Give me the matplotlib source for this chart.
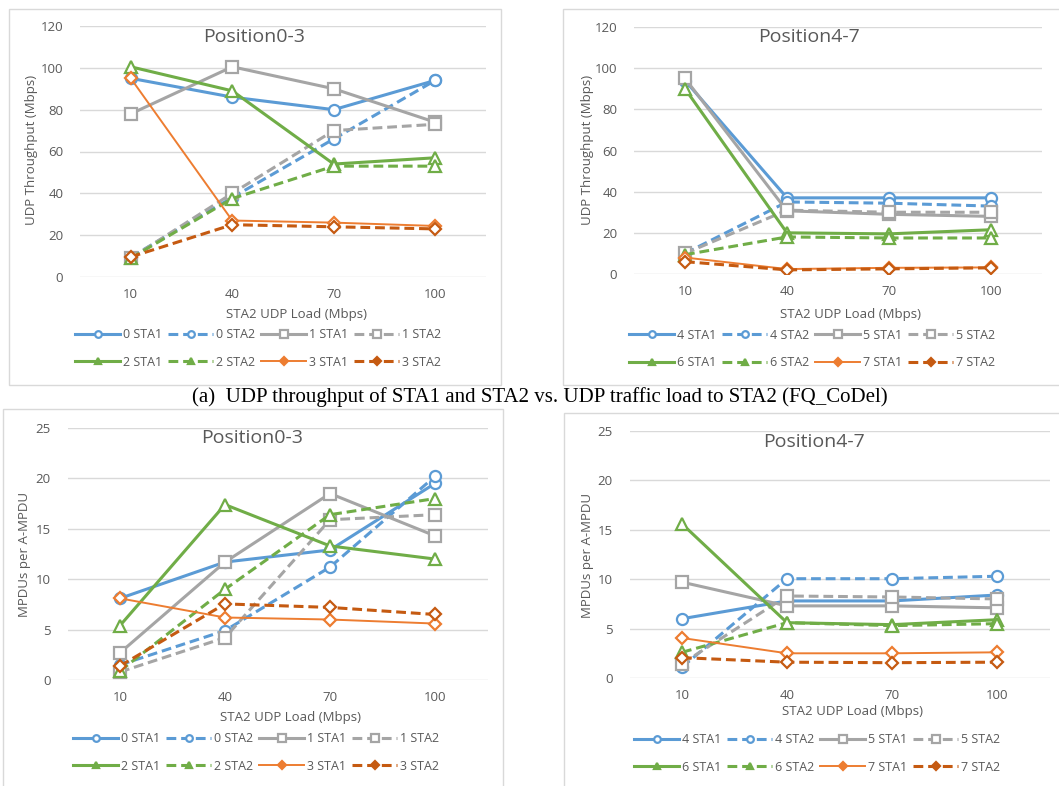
import matplotlib
matplotlib.use("Agg")
import matplotlib.pyplot as plt
from matplotlib.patches import Rectangle

plt.rcParams['font.family'] = ['Open Sans', 'DejaVu Sans']

loads = ["10", "40", "70", "100"]

# Throughput, Position 0-3
tp_0_sta1 = [95, 86, 80, 94]
tp_0_sta2 = [9.5, 38, 66, 94]
tp_1_sta1 = [78, 100.5, 90, 74]
tp_1_sta2 = [9, 40, 70, 73]
tp_2_sta1 = [100.5, 89, 54, 57]
tp_2_sta2 = [9, 37.5, 53, 53]
tp_3_sta1 = [95, 27, 26, 24.4]
tp_3_sta2 = [9.6, 25, 24, 23]

# Throughput, Position 4-7
tp_4_sta1 = [94, 37, 37, 37]
tp_4_sta2 = [10, 35, 34.4, 33]
tp_5_sta1 = [95, 30.7, 29, 28]
tp_5_sta2 = [10, 31, 30, 30]
tp_6_sta1 = [90, 20, 19.5, 21.5]
tp_6_sta2 = [9.4, 18, 17.5, 17.5]
tp_7_sta1 = [8, 2.4, 3, 3.2]
tp_7_sta2 = [6, 2, 2.5, 3]

# MPDUs per A-MPDU, Position 0-3
mp_0_sta1 = [8.1, 11.7, 12.9, 19.5]
mp_0_sta2 = [1.5, 4.9, 11.2, 20.2]
mp_1_sta1 = [2.7, 11.7, 18.5, 14.3]
mp_1_sta2 = [0.8, 4.2, 15.9, 16.4]
mp_2_sta1 = [5.4, 17.4, 13.3, 12.0]
mp_2_sta2 = [0.9, 9.0, 16.4, 18.0]
mp_3_sta1 = [8.1, 6.2, 6.0, 5.6]
mp_3_sta2 = [1.4, 7.55, 7.2, 6.5]

# MPDUs per A-MPDU, Position 4-7
mp_4_sta1 = [6.0, 7.8, 7.8, 8.4]
mp_4_sta2 = [1.1, 10.05, 10.05, 10.3]
mp_5_sta1 = [9.7, 7.3, 7.3, 7.1]
mp_5_sta2 = [1.45, 8.3, 8.2, 8.0]
mp_6_sta1 = [15.6, 5.6, 5.4, 5.9]
mp_6_sta2 = [2.6, 5.6, 5.3, 5.5]
mp_7_sta1 = [4.05, 2.5, 2.5, 2.6]
mp_7_sta2 = [2.06, 1.6, 1.55, 1.6]

W, H = 1059, 786
fig = plt.figure(figsize=(W / 100, H / 100), dpi=100)

BLUE = "#5B9BD5"
GRAY = "#A5A5A5"
GREEN = "#70AD47"
ORANGE = "#ED7D31"
DORANGE = "#C55A11"
TXT = "#595959"

styles = [
    (BLUE, '-', 'o', 2.2, 8),
    (BLUE, '--', 'o', 2.2, 8),
    (GRAY, '-', 's', 2.2, 9),
    (GRAY, '--', 's', 2.2, 9),
    (GREEN, '-', '^', 2.2, 8),
    (GREEN, '--', '^', 2.2, 8),
    (ORANGE, '-', 'D', 1.4, 6.5),
    (DORANGE, '--', 'D', 2.2, 6.5),
]


def px_axes(left, right, top, bottom):
    return fig.add_axes([left / W, (H - bottom) / H, (right - left) / W, (bottom - top) / H])


def box(x0, y0, x1, y1):
    fig.patches.append(Rectangle((x0 / W, (H - y1) / H), (x1 - x0) / W, (y1 - y0) / H,
                                 transform=fig.transFigure, fill=False,
                                 edgecolor="#D9D9D9", linewidth=1.0, zorder=0))


def panel(rect, series, names, ymax, ystep, title, title_xy, ylabel, ylabel_xy,
          xlabel_xy, legend_y, legend_x):
    ax = px_axes(*rect)
    xs = [i + 0.5 for i in range(len(loads))]
    handles = []
    for vals, name, (c, ls, m, lw, ms) in zip(series, names, styles):
        h, = ax.plot(xs, vals, color=c, linestyle=ls, linewidth=lw, marker=m,
                     markersize=ms, markerfacecolor="white", markeredgecolor=c,
                     markeredgewidth=1.6, label=name, zorder=3)
        if ls == '--':
            h.set_dashes((3.2, 1.6))
        handles.append(h)
    ax.set_xlim(0, 4)
    ax.set_ylim(0, ymax)
    ax.set_yticks(range(0, ymax + 1, ystep))
    ax.set_xticks(xs)
    ax.set_xticklabels(loads)
    ax.tick_params(length=0, labelsize=9.5, colors=TXT, pad=8)
    ax.tick_params(axis='y', pad=12)
    for s in ax.spines.values():
        s.set_visible(False)
    ax.grid(axis='y', color="#D9D9D9", linewidth=1.0)
    ax.set_axisbelow(True)
    fig.text(title_xy[0] / W, 1 - title_xy[1] / H, title, fontsize=14, color=TXT,
             ha='center', va='center')
    fig.text(ylabel_xy[0] / W, 1 - ylabel_xy[1] / H, ylabel, fontsize=9.5, color=TXT,
             rotation=90, ha='center', va='center')
    fig.text(xlabel_xy[0] / W, 1 - xlabel_xy[1] / H, "STA2 UDP Load (Mbps)", fontsize=9.5,
             color=TXT, ha='center', va='center')
    order = [0, 4, 1, 5, 2, 6, 3, 7]
    leg = fig.legend(handles=[handles[i] for i in order], ncol=4, loc='center',
                     bbox_to_anchor=(legend_x / W, 1 - legend_y / H),
                     frameon=False, fontsize=9, labelcolor=TXT, handlelength=3.6,
                     handletextpad=0.2, columnspacing=0.5, markerscale=0.6,
                     borderaxespad=0, labelspacing=1.15)
    for ln in leg.get_lines():
        if ln.get_marker() in ('^', 'D'):
            ln.set_markerfacecolor(ln.get_color())
    return ax


names03 = ["0 STA1", "0 STA2", "1 STA1", "1 STA2", "2 STA1", "2 STA2", "3 STA1", "3 STA2"]
names47 = ["4 STA1", "4 STA2", "5 STA1", "5 STA2", "6 STA1", "6 STA2", "7 STA1", "7 STA2"]

box(9, 9, 501, 385)
box(563, 9, 1075, 385)
box(3, 409, 503, 800)
box(564, 413, 1075, 800)

panel((80, 486, 26, 277),
      [tp_0_sta1, tp_0_sta2, tp_1_sta1, tp_1_sta2, tp_2_sta1, tp_2_sta2, tp_3_sta1, tp_3_sta2],
      names03, 120, 20, "Position0-3", (254, 37), "UDP Throughput (Mbps)", (32, 150),
      (296, 315), 348.5, 258)

panel((634, 1042, 27, 274),
      [tp_4_sta1, tp_4_sta2, tp_5_sta1, tp_5_sta2, tp_6_sta1, tp_6_sta2, tp_7_sta1, tp_7_sta2],
      names47, 120, 20, "Position4-7", (809, 37), "UDP Throughput (Mbps)", (587, 150),
      (851, 315), 349, 812)

panel((67.5, 487.5, 428, 680),
      [mp_0_sta1, mp_0_sta2, mp_1_sta1, mp_1_sta2, mp_2_sta1, mp_2_sta2, mp_3_sta1, mp_3_sta2],
      names03, 25, 5, "Position0-3", (252, 438), "MPDUs per A-MPDU", (25, 554),
      (290, 717), 752.5, 256)

panel((629.5, 1049.5, 431, 678),
      [mp_4_sta1, mp_4_sta2, mp_5_sta1, mp_5_sta2, mp_6_sta1, mp_6_sta2, mp_7_sta1, mp_7_sta2],
      names47, 25, 5, "Position4-7", (814, 442), "MPDUs per A-MPDU", (587, 555),
      (852, 712), 753.5, 817)

fig.text(540 / W, 1 - 397 / H,
         "(a)  UDP throughput of STA1 and STA2 vs. UDP traffic load to STA2 (FQ_CoDel)",
         fontsize=15, family=['Liberation Serif', 'DejaVu Serif'], color='black',
         ha='center', va='center')

fig.savefig("out.png", dpi=100)
